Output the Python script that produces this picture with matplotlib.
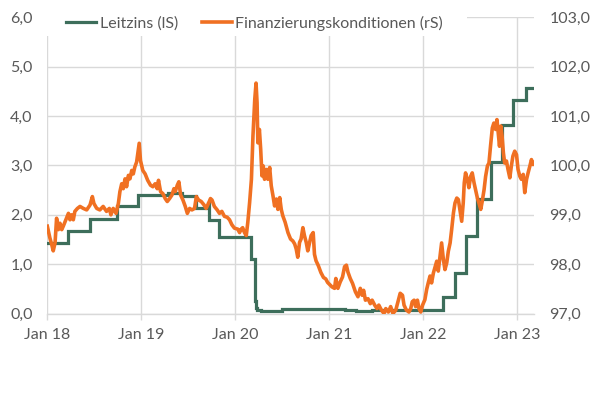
import pandas as pd
import numpy as np
import matplotlib.pyplot as plt
import matplotlib.dates as mdates
from matplotlib.patches import Rectangle

# --- Leitzins (left scale), step series: date of change -> level ---
RATE_DATES = ["2018-01-01", "2018-03-22", "2018-06-14", "2018-09-27", "2018-12-20",
              "2019-04-15", "2019-06-10", "2019-08-01", "2019-09-17", "2019-09-20",
              "2019-10-31", "2020-03-04", "2020-03-16", "2020-03-20", "2020-03-27",
              "2020-04-10", "2020-06-01", "2020-07-01", "2021-03-01", "2021-04-15",
              "2021-06-17", "2022-03-17", "2022-05-05", "2022-06-16", "2022-07-28",
              "2022-09-22", "2022-11-03", "2022-12-15", "2023-02-02", "2023-03-07"]
RATE_VALUES = [1.42, 1.68, 1.91, 2.18, 2.40,
               2.44, 2.38, 2.13, 2.25, 1.90,
               1.56, 1.10, 0.25, 0.12, 0.08,
               0.05, 0.06, 0.09, 0.07, 0.06,
               0.08, 0.33, 0.83, 1.58, 2.33,
               3.08, 3.83, 4.33, 4.58, 4.58]

# --- Finanzierungskonditionen (right scale) ---
FCI_DATES = [
    "2018-01-01", "2018-01-11", "2018-01-18", "2018-01-24", "2018-01-31", "2018-02-06",
    "2018-02-13", "2018-02-19", "2018-02-26", "2018-03-04", "2018-03-14", "2018-03-24",
    "2018-03-30", "2018-04-05", "2018-04-12", "2018-04-18", "2018-04-28", "2018-05-08",
    "2018-05-21", "2018-06-03", "2018-06-16", "2018-06-25", "2018-07-01", "2018-07-12",
    "2018-07-24", "2018-08-06", "2018-08-19", "2018-08-30", "2018-09-05", "2018-09-14",
    "2018-09-25", "2018-10-04", "2018-10-10", "2018-10-17", "2018-10-23", "2018-10-30",
    "2018-11-05", "2018-11-12", "2018-11-18", "2018-11-25", "2018-12-01", "2018-12-07",
    "2018-12-14", "2018-12-24", "2018-12-29",
    "2019-01-07", "2019-01-16", "2019-01-26", "2019-02-06", "2019-02-15", "2019-02-24",
    "2019-03-04", "2019-03-09", "2019-03-17", "2019-03-26", "2019-04-04", "2019-04-12",
    "2019-04-21", "2019-04-30", "2019-05-08", "2019-05-13", "2019-05-21", "2019-05-27",
    "2019-06-03", "2019-06-12", "2019-06-21", "2019-06-29", "2019-07-08", "2019-07-17",
    "2019-07-27", "2019-08-03", "2019-08-12", "2019-08-22", "2019-09-02", "2019-09-10",
    "2019-09-19", "2019-09-27", "2019-10-03", "2019-10-12", "2019-10-23", "2019-11-01",
    "2019-11-10", "2019-11-20", "2019-12-01", "2019-12-10", "2019-12-19", "2019-12-29",
    "2020-01-11", "2020-01-18", "2020-01-24", "2020-01-30", "2020-02-06", "2020-02-13",
    "2020-02-19", "2020-02-26", "2020-03-04", "2020-03-10", "2020-03-17", "2020-03-22",
    "2020-03-26", "2020-03-29", "2020-04-04", "2020-04-09", "2020-04-14", "2020-04-19",
    "2020-04-24", "2020-05-01", "2020-05-07", "2020-05-14", "2020-05-20", "2020-05-27",
    "2020-06-02", "2020-06-09", "2020-06-15", "2020-06-22", "2020-06-28", "2020-07-04",
    "2020-07-13", "2020-07-24", "2020-08-03", "2020-08-12", "2020-08-19", "2020-08-25",
    "2020-08-31", "2020-09-07", "2020-09-13", "2020-09-20", "2020-09-26", "2020-10-03",
    "2020-10-09", "2020-10-16", "2020-10-22", "2020-10-30", "2020-11-04", "2020-11-10",
    "2020-11-19", "2020-11-29", "2020-12-09", "2020-12-18", "2020-12-25",
    "2021-01-11", "2021-01-21", "2021-01-26", "2021-02-03", "2021-02-12", "2021-02-21",
    "2021-03-01", "2021-03-08", "2021-03-14", "2021-03-23", "2021-04-01", "2021-04-12",
    "2021-04-22", "2021-05-01", "2021-05-08", "2021-05-14", "2021-05-21", "2021-05-31",
    "2021-06-09", "2021-06-16", "2021-06-26", "2021-07-05", "2021-07-12", "2021-07-22",
    "2021-08-01", "2021-08-08", "2021-08-18", "2021-08-27", "2021-09-05", "2021-09-16",
    "2021-09-26", "2021-10-03", "2021-10-12", "2021-10-18", "2021-10-27", "2021-11-06",
    "2021-11-13", "2021-11-19", "2021-11-26", "2021-12-02", "2021-12-09", "2021-12-15",
    "2021-12-22", "2021-12-29",
    "2022-01-07", "2022-01-14", "2022-01-20", "2022-01-27", "2022-02-02", "2022-02-09",
    "2022-02-15", "2022-02-22", "2022-02-28", "2022-03-07", "2022-03-13", "2022-03-20",
    "2022-03-26", "2022-04-02", "2022-04-08", "2022-04-15", "2022-04-21", "2022-04-28",
    "2022-05-04", "2022-05-11", "2022-05-17", "2022-05-23", "2022-05-30", "2022-06-05",
    "2022-06-09", "2022-06-14", "2022-06-21", "2022-06-27", "2022-07-04", "2022-07-10",
    "2022-07-17", "2022-07-23", "2022-07-30", "2022-08-05", "2022-08-12", "2022-08-18",
    "2022-08-25", "2022-08-31", "2022-09-07", "2022-09-13", "2022-09-19", "2022-09-26",
    "2022-10-02", "2022-10-09", "2022-10-14", "2022-10-19", "2022-10-24", "2022-10-29",
    "2022-11-03", "2022-11-08", "2022-11-13", "2022-11-20", "2022-11-26", "2022-12-03",
    "2022-12-09", "2022-12-15", "2022-12-22", "2022-12-29",
    "2023-01-04", "2023-01-11", "2023-01-17", "2023-01-24", "2023-01-30", "2023-02-06",
    "2023-02-12", "2023-02-19", "2023-02-25", "2023-03-03", "2023-03-07"]
FCI_VALUES = [
    98.77, 98.53, 98.40, 98.27, 98.43, 98.93,
    98.70, 98.83, 98.70, 98.77, 98.90, 99.03,
    98.90, 99.00, 98.90, 99.07, 99.13, 99.17,
    99.13, 99.10, 99.20, 99.37, 99.23, 99.13,
    99.10, 99.17, 99.07, 99.13, 99.00, 99.13,
    99.03, 99.23, 99.47, 99.63, 99.53, 99.73,
    99.57, 99.80, 99.73, 99.90, 99.83, 99.97,
    100.07, 100.45, 100.10,
    99.90, 99.83, 99.70, 99.60, 99.57, 99.63,
    99.53, 99.70, 99.47, 99.43, 99.33, 99.27,
    99.33, 99.40, 99.53, 99.47, 99.60, 99.67,
    99.40, 99.30, 99.17, 99.03, 99.13, 99.10,
    99.13, 99.37, 99.30, 99.27, 99.20, 99.13,
    99.23, 99.33, 99.30, 99.17, 99.10, 99.03,
    99.07, 98.97, 98.95, 98.90, 98.80, 98.73,
    98.71, 98.64, 98.71, 98.74, 98.64, 98.58,
    98.85, 99.25, 99.72, 100.60, 101.34, 101.67,
    101.27, 100.46, 100.73, 100.33, 99.79, 99.99,
    99.72, 99.92, 99.72, 99.96, 99.59, 99.38,
    99.18, 99.32, 99.11, 99.35, 99.11, 98.98,
    98.85, 98.64, 98.51, 98.47, 98.41, 98.31,
    98.14, 98.44, 98.51, 98.74, 98.58, 98.44,
    98.27, 98.44, 98.58, 98.64, 98.20, 98.07,
    97.97, 97.83, 97.73, 97.70, 97.63,
    97.54, 97.51, 97.71, 97.51, 97.64, 97.74,
    97.95, 97.98, 97.84, 97.71, 97.61, 97.44,
    97.34, 97.51, 97.37, 97.47, 97.27, 97.30,
    97.20, 97.27, 97.17, 97.10, 97.17, 97.07,
    97.00, 97.10, 97.03, 97.14, 97.00, 97.07,
    97.27, 97.41, 97.37, 97.17, 97.07, 97.03,
    97.10, 97.24, 97.27, 97.14, 97.27, 97.10,
    97.03, 97.17,
    97.28, 97.49, 97.62, 97.76, 97.62, 97.82,
    97.93, 98.06, 97.86, 98.16, 98.43, 98.09,
    97.89, 98.03, 98.26, 98.43, 98.70, 99.04,
    99.24, 99.34, 99.31, 99.11, 98.87, 99.24,
    99.65, 99.85, 99.72, 99.55, 99.78, 99.85,
    99.65, 99.51, 99.34, 99.24, 99.11, 99.28,
    99.51, 99.78, 99.99, 100.05, 100.39, 100.76,
    100.86, 100.73, 100.93, 100.66, 100.39, 100.80,
    100.59, 100.26, 100.05, 100.09, 99.92, 99.75,
    99.99, 100.19, 100.29, 100.22,
    99.92, 99.78, 99.72, 99.82, 99.45, 99.72,
    99.85, 99.99, 100.12, 100.02, 100.05]

GREEN = "#3d6e5b"
ORANGE = "#f07022"
TEXT = "#595959"
GRID = "#d9d9d9"
FS = 11.5

plt.rcParams["font.family"] = ["Lato", "DejaVu Sans"]

rate_dt = pd.to_datetime(RATE_DATES)
fci_dt = pd.to_datetime(FCI_DATES)

fig = plt.figure(figsize=(5.99, 3.94), dpi=100)
ax = fig.add_axes([0.079, 0.2043, 0.8125, 0.7513])
ax2 = ax.twinx()

ax.plot(rate_dt, RATE_VALUES, drawstyle="steps-post", color=GREEN, lw=2.3,
        solid_joinstyle="miter", label="Leitzins (lS)")
ax2.plot(fci_dt, FCI_VALUES, color=ORANGE, lw=2.6, solid_joinstyle="round",
         label="Finanzierungskonditionen (rS)")

ax.set_xlim(pd.Timestamp("2018-01-01"), pd.Timestamp("2023-03-07"))
ax.set_ylim(0, 6)
ax2.set_ylim(97, 103)
ax.set_yticks(np.arange(0, 6.1, 1))
ax2.set_yticks(np.arange(97, 103.1, 1))
ax.yaxis.set_major_formatter(lambda v, p: f"{v:.1f}".replace(".", ","))
ax2.yaxis.set_major_formatter(lambda v, p: f"{v:.1f}".replace(".", ","))

ax.xaxis.set_major_locator(mdates.YearLocator())
ax.xaxis.set_major_formatter(mdates.DateFormatter("Jan %y"))

ax.grid(True, color=GRID, lw=1.0)
ax.set_axisbelow(True)
for a in (ax, ax2):
    for s in a.spines.values():
        s.set_visible(False)
ax.spines["bottom"].set_visible(True)
ax.spines["bottom"].set_color(GRID)
ax.spines["bottom"].set_linewidth(1.0)

ax.tick_params(axis="y", length=0, pad=10.5, labelsize=FS, labelcolor=TEXT)
ax2.tick_params(axis="y", length=0, pad=11, labelsize=FS, labelcolor=TEXT)
ax.tick_params(axis="x", length=4, width=1, color=GRID, pad=6.5, labelsize=FS,
               labelcolor=TEXT)

# legend box covers the top gridline, as in the source
ax2.add_patch(Rectangle((40 / 599, 1 - 36 / 394), 427 / 599, 26 / 394,
                        transform=fig.transFigure, facecolor="white",
                        edgecolor="none", clip_on=False, zorder=4))
h1, l1 = ax.get_legend_handles_labels()
h2, l2 = ax2.get_legend_handles_labels()
leg = ax2.legend(h1 + h2, l1 + l2, loc="center left", ncol=2, frameon=False,
                 bbox_to_anchor=(66 / 599, 1 - 23 / 394),
                 bbox_transform=fig.transFigure, fontsize=FS,
                 handlelength=1.9, handletextpad=0.2, columnspacing=1.5,
                 borderpad=0.0, borderaxespad=0.0)
for t in leg.get_texts():
    t.set_color(TEXT)
leg.set_zorder(6)

fig.savefig("out.png", dpi=100)
